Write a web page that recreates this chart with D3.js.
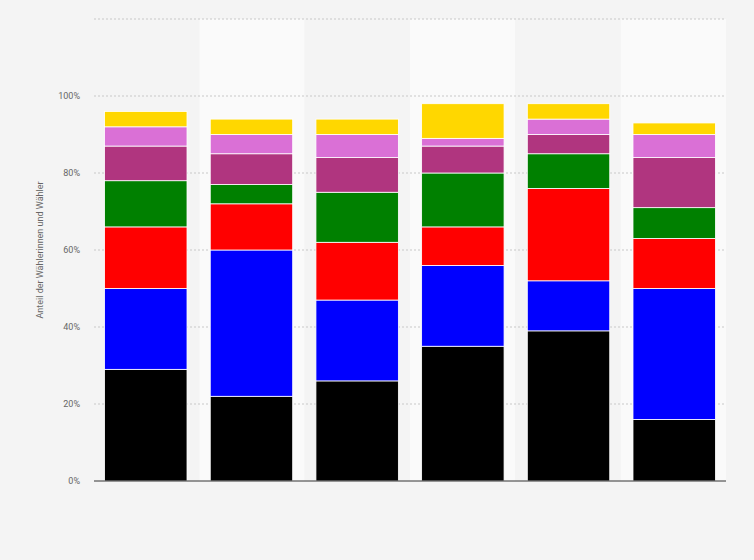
<!DOCTYPE html>
<html><head><meta charset="utf-8">
<script src="https://cdn.jsdelivr.net/npm/d3@7"></script>
<style>body{margin:0;background:#f4f4f4;font-family:Roboto,Arial,sans-serif}</style>
</head><body>
<svg id="chart" width="754" height="560"></svg>
<script>
// categories (unlabelled in the source)
const categories = ["g1", "g2", "g3", "g4", "g5", "g6"];
const seriesKeys = ["black", "blue", "red", "green", "purple", "pink", "yellow"];
const seriesColors = ["#000000", "#0000ff", "#ff0000", "#008000", "#b0357f", "#da70d6", "#ffd700"];
// share per series, in percent
const black = [29, 22, 26, 35, 39, 16];
const blue = [21, 38, 21, 21, 13, 34];
const red = [16, 12, 15, 10, 24, 13];
const green = [12, 5, 13, 14, 9, 8];
const purple = [9, 8, 9, 7, 5, 13];
const pink = [5, 5, 6, 2, 4, 6];
const yellow = [4, 4, 4, 9, 4, 3];
const yTicks = [0, 20, 40, 60, 80, 100, 120];

const values = [black, blue, red, green, purple, pink, yellow];
const rows = categories.map((c, i) => {
	const r = { cat: c };
	seriesKeys.forEach((k, j) => { r[k] = values[j][i]; });
	return r;
});

const margin = { left: 94, right: 28, top: 19, bottom: 79 };
const width = 754 - margin.left - margin.right;
const height = 560 - margin.top - margin.bottom;

const svg = d3.select("#chart");
const g = svg.append("g").attr("transform", `translate(${margin.left},${margin.top})`);

const x = d3.scaleBand().domain(categories).range([0, width]).paddingInner(0.22).paddingOuter(0.1);
const xBand = d3.scaleBand().domain(categories).range([0, width]);
const y = d3.scaleLinear().domain([0, 120]).range([height, 0]);

// alternating column shading
g.selectAll(".band").data(categories).join("rect")
	.attr("x", (d) => xBand(d)).attr("y", 0)
	.attr("width", xBand.bandwidth()).attr("height", height)
	.attr("fill", (d, i) => i % 2 ? "#fafafa" : "#f4f4f4");

// grid
g.selectAll(".grid").data(yTicks.slice(1)).join("line")
	.attr("x1", 0).attr("x2", width)
	.attr("y1", (d) => y(d)).attr("y2", (d) => y(d))
	.attr("stroke", "#c8c8c8").attr("stroke-dasharray", "2,2");

g.selectAll(".tick").data(yTicks.slice(0, 6)).join("text")
	.attr("x", -14).attr("y", (d) => y(d) + 3)
	.attr("text-anchor", "end").attr("font-size", 9).attr("fill", "#666")
	.text((d) => d + "%");

const stack = d3.stack().keys(seriesKeys)(rows);
g.selectAll(".series").data(stack).join("g")
	.attr("fill", (d, i) => seriesColors[i])
	.selectAll("rect").data((d) => d).join("rect")
	.attr("x", (d) => x(d.data.cat))
	.attr("y", (d) => y(d[1]))
	.attr("width", x.bandwidth())
	.attr("height", (d) => y(d[0]) - y(d[1]))
	.attr("stroke", "#fff").attr("stroke-width", 0.8);

g.append("line").attr("x1", 0).attr("x2", width)
	.attr("y1", height).attr("y2", height).attr("stroke", "#333");

svg.append("text")
	.attr("transform", `translate(43,${margin.top + y(60)}) rotate(-90)`)
	.attr("text-anchor", "middle").attr("font-size", 9).attr("fill", "#666")
	.text("Anteil der Wählerinnen und Wähler");
</script>
</body></html>
